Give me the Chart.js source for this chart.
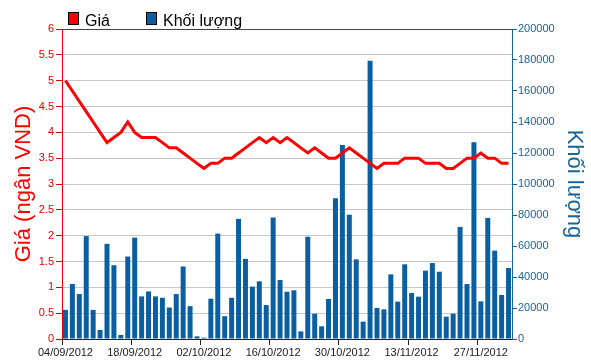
<!DOCTYPE html>
<html>
<head>
<meta charset="utf-8">
<script src="https://cdn.jsdelivr.net/npm/chart.js@4"></script>
<style>
  html, body { margin: 0; padding: 0; background: #fff; }
  #wrap { width: 591px; height: 364px; }
</style>
</head>
<body>
<div id="wrap"><canvas id="chart" width="591" height="364"></canvas></div>
<script>
// Ngày giao dịch (04/09/2012 - 03/12/2012)
const ngay = [
  '04/09/2012','05/09/2012','06/09/2012','07/09/2012','10/09/2012','11/09/2012','12/09/2012','13/09/2012','14/09/2012','17/09/2012',
  '18/09/2012','19/09/2012','20/09/2012','21/09/2012','24/09/2012','25/09/2012','26/09/2012','27/09/2012','28/09/2012','01/10/2012',
  '02/10/2012','03/10/2012','04/10/2012','05/10/2012','08/10/2012','09/10/2012','10/10/2012','11/10/2012','12/10/2012','15/10/2012',
  '16/10/2012','17/10/2012','18/10/2012','19/10/2012','22/10/2012','23/10/2012','24/10/2012','25/10/2012','26/10/2012','29/10/2012',
  '30/10/2012','31/10/2012','01/11/2012','02/11/2012','05/11/2012','06/11/2012','07/11/2012','08/11/2012','09/11/2012','12/11/2012',
  '13/11/2012','14/11/2012','15/11/2012','16/11/2012','19/11/2012','20/11/2012','21/11/2012','22/11/2012','23/11/2012','26/11/2012',
  '27/11/2012','28/11/2012','29/11/2012','30/11/2012','03/12/2012'
];

// Giá (ngàn VND)
const gia = [
  5.0, 4.8, 4.6, 4.4, 4.2, 4.0, 3.8, 3.9, 4.0, 4.2,
  4.0, 3.9, 3.9, 3.9, 3.8, 3.7, 3.7, 3.6, 3.5, 3.4,
  3.3, 3.4, 3.4, 3.5, 3.5, 3.6, 3.7, 3.8, 3.9, 3.8,
  3.9, 3.8, 3.9, 3.8, 3.7, 3.6, 3.7, 3.6, 3.5, 3.5,
  3.6, 3.7, 3.6, 3.5, 3.4, 3.3, 3.4, 3.4, 3.4, 3.5,
  3.5, 3.5, 3.4, 3.4, 3.4, 3.3, 3.3, 3.4, 3.5, 3.5,
  3.6, 3.5, 3.5, 3.4, 3.4
];

// Khối lượng
const khoiLuong = [
  18800, 35500, 29000, 66400, 18800, 5800, 61400, 47600, 2600, 53200,
  65400, 27500, 30700, 27500, 26600, 20300, 29000, 46800, 21200, 1700,
  900, 26000, 68000, 14700, 26600, 77500, 51700, 33800, 37200, 21900,
  78400, 38100, 30500, 31400, 4900, 66000, 16300, 8200, 25800, 90800,
  125200, 80200, 51400, 11200, 179500, 20000, 19100, 41700, 24100, 48200,
  29700, 27300, 44100, 49000, 43400, 14400, 16300, 72300, 35500, 126900,
  24300, 78100, 57000, 28400, 45800
];

const mauDo = '#ff0000';
const mauChuDo = '#e00000';
const mauXanh = '#0a5fa3';
const mauChuXanh = '#1a6496';
const fontChu = "'Liberation Sans', Arial, sans-serif";

// Chú thích kiểu cũ ở góc trên
const chuThich = {
  id: 'chuThich',
  afterDraw(chart) {
    const ctx = chart.ctx;
    const muc = [
      { ten: 'Giá', mau: mauDo, x: 68 },
      { ten: 'Khối lượng', mau: mauXanh, x: 146 }
    ];
    ctx.save();
    ctx.font = '16px ' + fontChu;
    ctx.textBaseline = 'alphabetic';
    muc.forEach(m => {
      ctx.fillStyle = m.mau;
      ctx.fillRect(m.x, 12, 11, 13);
      ctx.strokeStyle = '#000';
      ctx.lineWidth = 1;
      ctx.strokeRect(m.x + 0.5, 12.5, 10, 12);
      ctx.fillStyle = '#000';
      ctx.fillText(m.ten, m.x + 17, 26);
    });
    ctx.restore();
  }
};

const ctx = document.getElementById('chart').getContext('2d');
new Chart(ctx, {
  data: {
    labels: ngay,
    datasets: [
      {
        type: 'line',
        label: 'Giá',
        data: gia,
        yAxisID: 'yGia',
        borderColor: mauDo,
        borderWidth: 3,
        pointRadius: 0,
        tension: 0,
        order: 0
      },
      {
        type: 'bar',
        label: 'Khối lượng',
        data: khoiLuong,
        yAxisID: 'yKL',
        backgroundColor: mauXanh,
        borderWidth: 0,
        barPercentage: 0.72,
        categoryPercentage: 1,
        order: 1
      }
    ]
  },
  options: {
    responsive: false,
    animation: false,
    layout: { padding: { top: 29, left: 0, right: 0, bottom: 0 } },
    plugins: {
      legend: { display: false },
      tooltip: { enabled: false }
    },
    scales: {
      x: {
        offset: true,
        afterFit: s => { s.height = 25; },
        border: { color: '#222', width: 1 },
        grid: {
          drawOnChartArea: false,
          tickLength: 6,
          tickColor: c => (c.index % 10 === 0 ? '#222' : 'rgba(0,0,0,0)')
        },
        ticks: {
          autoSkip: false,
          maxRotation: 0,
          minRotation: 0,
          padding: 1,
          color: '#222',
          font: { family: fontChu, size: 11 },
          callback: function (v, i) { return i % 10 === 0 ? ngay[i] : ''; }
        }
      },
      yGia: {
        position: 'left',
        min: 0,
        max: 6,
        afterFit: s => { s.width = 62; },
        border: { color: mauChuDo, width: 1 },
        grid: {
          color: c => (c.tick.value === 6 ? '#444' : '#c8c8c8'),
          tickColor: mauChuDo,
          tickLength: 6
        },
        ticks: {
          stepSize: 0.5,
          padding: 2,
          color: mauChuDo,
          font: { family: fontChu, size: 11 },
          callback: v => String(v)
        },
        title: {
          display: true,
          text: 'Giá (ngân VND)',
          color: mauDo,
          font: { family: fontChu, size: 22 },
          padding: { top: 11, bottom: 0 }
        }
      },
      yKL: {
        position: 'right',
        min: 0,
        max: 200000,
        afterFit: s => { s.width = 79; },
        border: { color: mauChuXanh, width: 1 },
        grid: {
          drawOnChartArea: false,
          tickColor: mauChuXanh,
          tickLength: 5
        },
        ticks: {
          stepSize: 20000,
          padding: 1,
          color: mauChuXanh,
          font: { family: fontChu, size: 11 },
          callback: v => String(v)
        },
        title: {
          display: true,
          text: 'Khối lượng',
          color: mauChuXanh,
          font: { family: fontChu, size: 22 },
          padding: { top: 4, bottom: 0 }
        }
      }
    }
  },
  plugins: [chuThich]
});
</script>
</body>
</html>
